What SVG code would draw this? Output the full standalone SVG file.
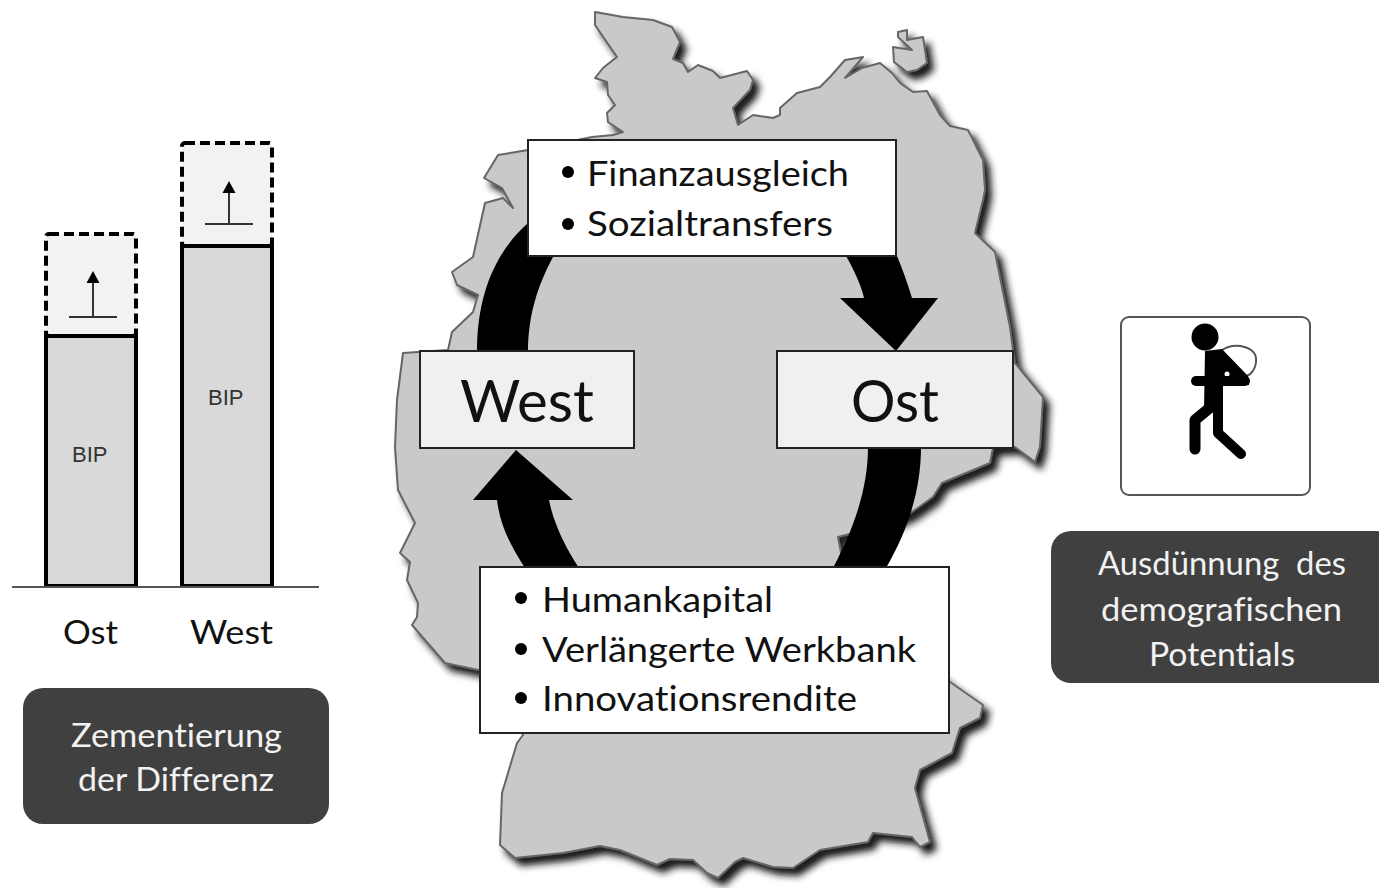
<svg xmlns="http://www.w3.org/2000/svg" width="1379" height="888" viewBox="0 0 1379 888">
<defs>
<filter id="sh" x="-10%" y="-10%" width="120%" height="120%">
<feGaussianBlur in="SourceAlpha" stdDeviation="3.500" result="a"/>
<feOffset in="a" dx="6" dy="7" result="o"/>
<feFlood flood-color="#1a1a1a" flood-opacity="1"/>
<feComposite in2="o" operator="in" result="s"/>
<feGaussianBlur in="SourceGraphic" stdDeviation="0.600" result="g"/>
<feMerge><feMergeNode in="s"/><feMergeNode in="g"/></feMerge>
</filter>
</defs>
<style>
text{font-family:Lato,"Liberation Sans",sans-serif;fill:#111;font-variant-ligatures:none}
.map{fill:#c9c9c9;stroke:#666;stroke-width:2;stroke-linejoin:round}
.white{fill:#fff;stroke:#222;stroke-width:2}
.light{fill:#f0f0f0;stroke:#222;stroke-width:2}
.bar{fill:#d9d9d9;stroke:#000;stroke-width:4}
.dash{fill:#f2f2f2;stroke:#000;stroke-width:4;stroke-dasharray:10 5}
.dark{fill:#404040}
.t37{font-size:35px}
.big{font-size:58px}
.lab{font-size:33px}
.bip{font-size:22px;fill:#333;font-family:"Liberation Sans",sans-serif}
.w{font-size:32px;fill:#f2f2f2;text-anchor:start}
.tick{stroke:#333;stroke-width:2;fill:none}
.b{fill:#000}
.limb{stroke:#000;fill:none;stroke-linecap:round;stroke-linejoin:round}
</style>

<g id="map" filter="url(#sh)">
<path class="map" d="M595,12 L623,17 L653,20 L672,27 L680,42 L673,59 L683,63 L688,72 L698,65 L713,71 L720,78 L747,71 L753,80 L750,90 L733,108 L738,125 L753,115 L773,118 L780,115 L780,108 L797,93 L820,87 L830,77 L845,60 L863,57 L845,78 L862,68 L880,63 L892,73 L900,83 L913,92 L927,91 L940,115 L950,126 L968,130 L983,160 L985,190 L983,200 L975,233 L995,252 L1010,327 L1013,350 L1015,363 L1043,397 L1040,447 L1035,462 L1015,447 L993,448 L990,463 L942,483 L933,497 L912,512 L885,525 L838,537 L850,600 L950,682 L983,705 L980,718 L960,728 L952,753 L920,770 L915,788 L930,842 L920,847 L912,837 L873,833 L868,842 L820,850 L793,868 L773,867 L743,858 L735,862 L718,878 L707,873 L693,860 L670,859 L657,865 L620,850 L600,846 L563,853 L515,858 L500,845 L502,793 L517,743 L523,735 L520,680 L478,670 L445,663 L412,625 L417,617 L418,603 L407,580 L410,562 L400,553 L415,523 L398,490 L395,447 L397,400 L403,353 L418,352 L448,350 L452,332 L473,312 L478,295 L457,285 L452,272 L473,257 L485,203 L503,198 L513,208 L502,188 L484,178 L498,155 L528,150 L592,137 L613,135 L623,132 L608,122 L607,113 L615,105 L608,95 L607,82 L595,78 L603,68 L613,60 L617,57 L595,25 Z"/>
<path class="map" d="M898,32 L907,30 L907,40 L923,37 L927,63 L917,70 L907,72 L894,62 L893,47 L912,50 L898,37 Z"/>
</g>

<g id="connectors">
<path class="b" d="M477,352 C477,300 492,255 528,223 L553,257 C538,285 528,315 528,352 Z"/>
<path class="b" d="M846,256 C855,272 861,285 864,298 L840,298 L896,351 L938,298 L912,298 C908,285 903,270 897,256 Z"/>
<path class="b" d="M868,447 C868,490 853,530 833,568 L886,568 C908,530 921,490 921,447 Z"/>
<path class="b" d="M525,568 C510,545 500,525 497,500 L473,500 L516,450 L573,500 L549,500 C554,525 566,548 579,568 Z"/>
</g>

<g id="finanz">
<rect class="white" x="528" y="140" width="368" height="116"/>
<circle class="b" cx="568" cy="172" r="6"/><circle class="b" cx="568" cy="224" r="6"/>
<text class="t37" x="587" y="186" textLength="262" lengthAdjust="spacingAndGlyphs">Finanzausgleich</text>
<text class="t37" x="587" y="236" textLength="246" lengthAdjust="spacingAndGlyphs">Sozialtransfers</text>
</g>
<g id="west">
<rect class="light" x="420" y="351" width="214" height="97"/>
<text class="big" x="460" y="422" textLength="134" lengthAdjust="spacingAndGlyphs">West</text>
</g>
<g id="ost">
<rect class="light" x="777" y="351" width="236" height="97"/>
<text class="big" x="851" y="422" textLength="88" lengthAdjust="spacingAndGlyphs">Ost</text>
</g>
<g id="human">
<rect class="white" x="480" y="567" width="469" height="166"/>
<circle class="b" cx="521" cy="598" r="6"/><circle class="b" cx="521" cy="649" r="6"/><circle class="b" cx="521" cy="698" r="6"/>
<text class="t37" x="542" y="612" textLength="231" lengthAdjust="spacingAndGlyphs">Humankapital</text>
<text class="t37" x="542" y="662" textLength="374" lengthAdjust="spacingAndGlyphs">Verlängerte Werkbank</text>
<text class="t37" x="542" y="711" textLength="315" lengthAdjust="spacingAndGlyphs">Innovationsrendite</text>
</g>

<g id="bar-ost">
<rect class="dash" x="46" y="234" width="90" height="102" rx="3"/>
<rect class="bar" x="46" y="336" width="90" height="250"/>
<path class="tick" d="M69,317 H117 M93,317 V282"/>
<path class="b" d="M93,271 L99.500,283 H86.500 Z"/>
<text class="bip" x="72" y="462">BIP</text>
</g>
<g id="bar-west">
<rect class="dash" x="182" y="143" width="90" height="103" rx="3"/>
<rect class="bar" x="182" y="246" width="90" height="340"/>
<path class="tick" d="M205,224 H253 M229,224 V192"/>
<path class="b" d="M229,181 L235.500,193 H222.500 Z"/>
<text class="bip" x="208" y="405">BIP</text>
</g>
<g id="axis">
<line x1="12" y1="587" x2="319" y2="587" stroke="#555" stroke-width="2"/>
<text class="lab" x="63" y="644" textLength="55" lengthAdjust="spacingAndGlyphs">Ost</text>
<text class="lab" x="190" y="644" textLength="83" lengthAdjust="spacingAndGlyphs">West</text>
</g>
<g id="zement">
<rect class="dark" x="23" y="688" width="306" height="136" rx="20"/>
<text class="w" x="71" y="747" textLength="211" lengthAdjust="spacingAndGlyphs">Zementierung</text>
<text class="w" x="78" y="791" textLength="196" lengthAdjust="spacingAndGlyphs">der Differenz</text>
</g>
<g id="icon">
<rect x="1121" y="317" width="189" height="178" rx="8" fill="#fff" stroke="#555" stroke-width="2"/>
<circle class="b" cx="1205" cy="337" r="13.500"/>
<path d="M1222,350 C1235,342 1258,346 1256,362 C1255,372 1248,376 1246,376" fill="none" stroke="#555" stroke-width="2"/>
<path class="b" d="M1205,351 L1222,349 L1248,376 L1249,385 L1223,385 L1223,410 L1204,410 Z"/>
<circle cx="1227" cy="374" r="2.500" fill="#fff"/>
<path class="limb" stroke-width="10" d="M1196,381 H1245"/>
<path class="limb" stroke-width="11" d="M1212,406 L1195,420 V449"/>
<path class="limb" stroke-width="10" d="M1218,405 V433 L1241,454"/>
</g>
<g id="ausd">
<rect class="dark" x="1051" y="531" width="345" height="152" rx="20"/>
<text class="w" x="1098" y="575" textLength="248" lengthAdjust="spacingAndGlyphs" xml:space="preserve">Ausdünnung  des</text>
<text class="w" x="1101" y="621" textLength="241" lengthAdjust="spacingAndGlyphs">demografischen</text>
<text class="w" x="1149" y="666" textLength="146" lengthAdjust="spacingAndGlyphs">Potentials</text>
</g>
</svg>
